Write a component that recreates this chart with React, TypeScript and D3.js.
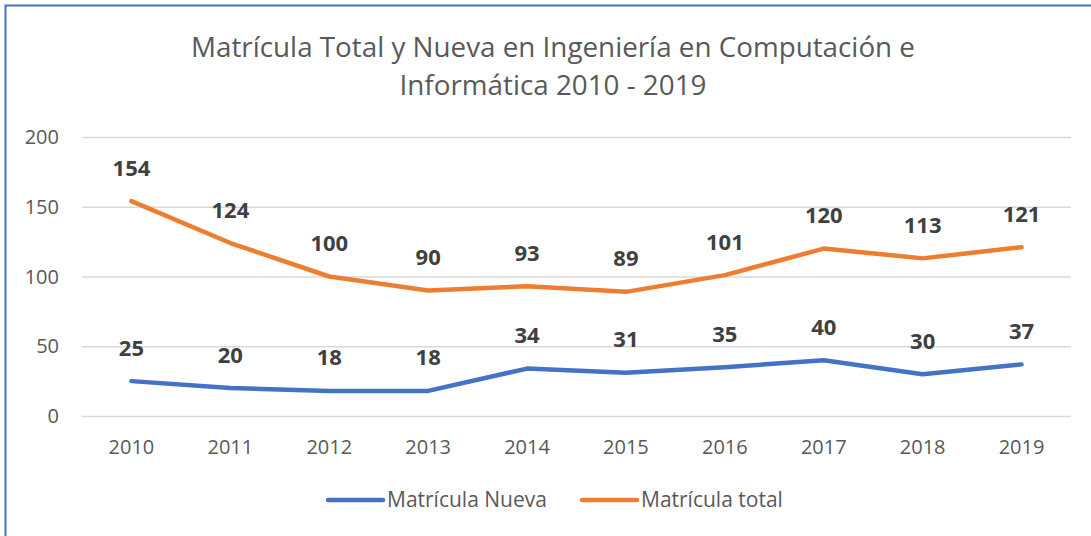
import React, { useEffect, useRef } from 'react';
import * as d3 from 'd3';

const years = ['2010', '2011', '2012', '2013', '2014', '2015', '2016', '2017', '2018', '2019'];
const nueva = [25, 20, 18, 18, 34, 31, 35, 40, 30, 37];
const total = [154, 124, 100, 90, 93, 89, 101, 120, 113, 121];
const yTicks = [0, 50, 100, 150, 200];
const titleLines = ['Matrícula Total y Nueva en Ingeniería en Computación e', 'Informática 2010 - 2019'];

const W = 1091;
const H = 536;
const FONT = "'Open Sans', 'Noto Sans', sans-serif";

const App = () => {
  const svgRef = useRef<SVGSVGElement>(null);

  useEffect(() => {
    document.body.style.margin = '0';
    const svg = d3.select(svgRef.current);
    svg.selectAll('*').remove();

    // frame
    svg.append('rect')
      .attr('x', 5.5).attr('y', 5.5)
      .attr('width', W + 10).attr('height', H + 10)
      .attr('fill', 'white')
      .attr('stroke', '#4472C4')
      .attr('stroke-width', 2);

    const left = 82, right = 1071, top = 137, bottom = 416;

    const x = d3.scaleBand().domain(years).range([left, right]);
    const y = d3.scaleLinear().domain([0, 200]).range([bottom, top]);
    const cx = (d: string) => (x(d) as number) + x.bandwidth() / 2;

    // title
    svg.append('g').selectAll('text')
      .data(titleLines)
      .enter().append('text')
      .attr('x', 553)
      .attr('y', (d, i) => 57 + i * 38)
      .attr('text-anchor', 'middle')
      .attr('font-family', FONT)
      .attr('font-size', 27.8)
      .attr('fill', '#595959')
      .text(d => d);

    // grid
    svg.append('g').selectAll('line')
      .data(yTicks)
      .enter().append('line')
      .attr('x1', left).attr('x2', right)
      .attr('y1', d => y(d) + 0.5).attr('y2', d => y(d) + 0.5)
      .attr('stroke', '#D9D9D9')
      .attr('stroke-width', 1.5);

    // y labels
    svg.append('g').selectAll('text')
      .data(yTicks)
      .enter().append('text')
      .attr('x', 59)
      .attr('y', d => y(d) + 7)
      .attr('text-anchor', 'end')
      .attr('font-family', FONT)
      .attr('font-size', 20)
      .attr('fill', '#595959')
      .text(d => d);

    // x labels
    svg.append('g').selectAll('text')
      .data(years)
      .enter().append('text')
      .attr('x', d => cx(d))
      .attr('y', 454)
      .attr('text-anchor', 'middle')
      .attr('font-family', FONT)
      .attr('font-size', 20)
      .attr('fill', '#595959')
      .text(d => d);

    const series = [
      { name: 'Matrícula Nueva', values: nueva, color: '#4472C4' },
      { name: 'Matrícula total', values: total, color: '#ED7D31' },
    ];

    const line = d3.line<number>()
      .x((d, i) => cx(years[i]))
      .y(d => y(d));

    series.forEach(s => {
      svg.append('path')
        .datum(s.values)
        .attr('d', line)
        .attr('fill', 'none')
        .attr('stroke', s.color)
        .attr('stroke-width', 4.5)
        .attr('stroke-linecap', 'round')
        .attr('stroke-linejoin', 'round');

      svg.append('g').selectAll('text')
        .data(s.values)
        .enter().append('text')
        .attr('x', (d, i) => cx(years[i]))
        .attr('y', d => y(d) - 25.5)
        .attr('text-anchor', 'middle')
        .attr('font-family', FONT)
        .attr('font-size', 22)
        .attr('font-weight', 'bold')
        .attr('fill', '#404040')
        .text(d => d);
    });

    // legend
    const legendX = [328, 582];
    series.forEach((s, i) => {
      svg.append('line')
        .attr('x1', legendX[i]).attr('x2', legendX[i] + 55)
        .attr('y1', 500).attr('y2', 500)
        .attr('stroke', s.color)
        .attr('stroke-width', 4.5)
        .attr('stroke-linecap', 'round');
      svg.append('text')
        .attr('x', legendX[i] + 59)
        .attr('y', 507)
        .attr('font-family', FONT)
        .attr('font-size', 21)
        .attr('fill', '#595959')
        .text(s.name);
    });
  }, []);

  return <svg ref={svgRef} width={W} height={H} style={{ display: 'block' }} />;
};

export default App;
